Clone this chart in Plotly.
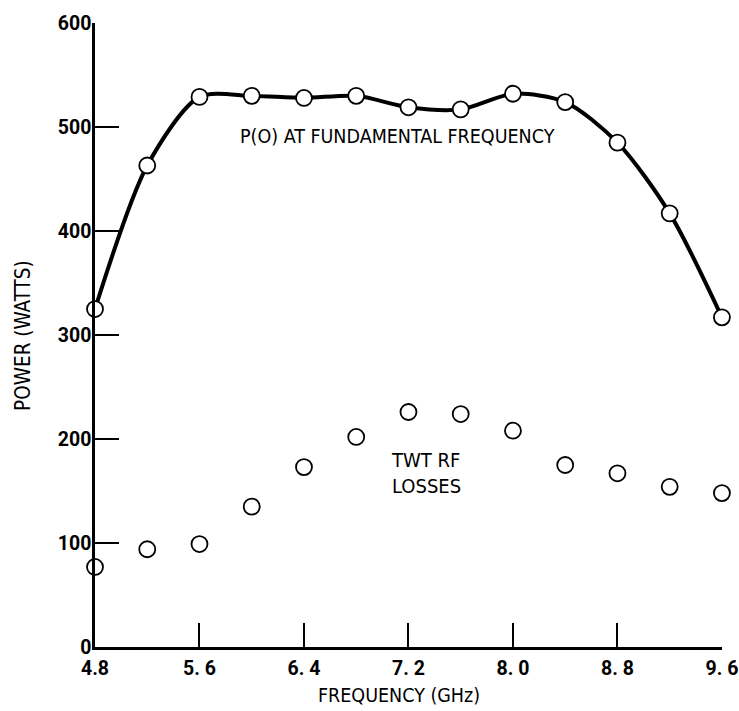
import plotly.graph_objects as go

# Data
freq = [4.8, 5.2, 5.6, 6.0, 6.4, 6.8, 7.2, 7.6, 8.0, 8.4, 8.8, 9.2, 9.6]
p_fundamental = [325, 463, 529, 530, 528, 530, 519, 517, 532, 524, 485, 417, 317]
twt_rf_losses = [77, 94, 99, 135, 173, 202, 226, 224, 208, 175, 167, 154, 148]

x_ticks = [4.8, 5.6, 6.4, 7.2, 8.0, 8.8, 9.6]
x_tick_text = ["4.8", "5. 6", "6. 4", "7. 2", "8. 0", "8. 8", "9. 6"]
y_ticks = [0, 100, 200, 300, 400, 500, 600]
y_tick_text = ["0", "100", "200", "300", "400", "500", "600"]

FONT = "DejaVu Sans Condensed, DejaVu Sans, sans-serif"
TICKFONT = "Roboto, Liberation Sans, sans-serif"

fig = go.Figure()

fig.add_trace(go.Scatter(
    x=freq, y=p_fundamental, mode="lines",
    line=dict(color="black", width=4, shape="spline", smoothing=0.8),
    cliponaxis=False, hoverinfo="skip", showlegend=False,
))
fig.add_trace(go.Scatter(
    x=freq, y=p_fundamental, mode="markers",
    marker=dict(symbol="circle", size=16, color="white",
                line=dict(color="black", width=1.8)),
    cliponaxis=False, showlegend=False,
))
fig.add_trace(go.Scatter(
    x=freq, y=twt_rf_losses, mode="markers",
    marker=dict(symbol="circle", size=16, color="rgba(255,255,255,0)",
                line=dict(color="black", width=1.8)),
    cliponaxis=False, showlegend=False,
))

fig.add_annotation(x=7.116, y=491, xref="x", yref="y",
                   text="P(O) AT FUNDAMENTAL FREQUENCY", showarrow=False,
                   font=dict(family=FONT, size=19.5, color="black"),
                   xanchor="center", yanchor="middle")
fig.add_annotation(x=7.05, y=167, xref="x", yref="y",
                   text="TWT RF<br>LOSSES", showarrow=False, align="left",
                   font=dict(family=FONT, size=20, color="black"),
                   xanchor="left", yanchor="middle")

# axis titles
fig.add_annotation(x=0.485, y=-0.0785, xref="paper", yref="paper",
                   text="FREQUENCY (GHz)", showarrow=False,
                   font=dict(family=FONT, size=19.5, color="black"),
                   xanchor="center", yanchor="middle")
fig.add_annotation(x=-0.116, y=0.499, xref="paper", yref="paper",
                   text="POWER (WATTS)", showarrow=False, textangle=-90,
                   font=dict(family=FONT, size=20.5, color="black"),
                   xanchor="center", yanchor="middle")

fig.update_xaxes(
    range=[4.8, 9.6005], tickvals=x_ticks, ticktext=x_tick_text,
    showline=True, linecolor="black", linewidth=2.5,
    ticks="inside", ticklen=24, tickwidth=2, tickcolor="black",
    showgrid=False, zeroline=False, ticklabelstandoff=2,
    ticklabeloverflow="allow", automargin=False,
    tickfont=dict(family=TICKFONT, size=19.5, color="black", weight="bold"),
    layer="above traces",
)
fig.update_yaxes(
    range=[0, 600.05], tickvals=y_ticks, ticktext=y_tick_text,
    showline=True, linecolor="black", linewidth=2.5,
    ticks="inside", ticklen=24, tickwidth=2, tickcolor="black",
    showgrid=False, zeroline=False, ticklabelstandoff=-3,
    ticklabeloverflow="allow", automargin=False,
    tickfont=dict(family=TICKFONT, size=19.5, color="black", weight="bold"),
    layer="above traces",
)

fig.update_layout(
    width=739, height=711,
    margin=dict(l=95, r=17, t=23, b=64),
    paper_bgcolor="white", plot_bgcolor="white",
    showlegend=False,
)

fig.write_html("out.html")
